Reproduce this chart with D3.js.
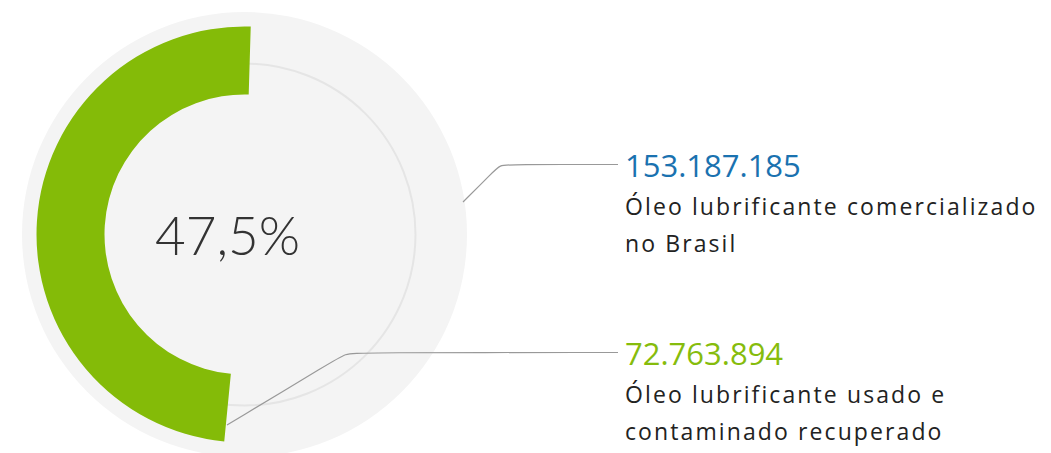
<!DOCTYPE html>
<html>
<head>
<meta charset="utf-8">
<script src="https://cdn.jsdelivr.net/npm/d3@7"></script>
<style>
  html, body { margin: 0; padding: 0; background: #fff; }
  svg { display: block; }
</style>
</head>
<body>
<svg id="chart" width="1051" height="453"></svg>
<script>
// data
const percentLabel = "47,5%";
const percentValue = 47.5;
const totals = ["153.187.185", "72.763.894"];
const labels = [
  ["Óleo lubrificante comercializado", "no Brasil"],
  ["Óleo lubrificante usado e", "contaminado recuperado"]
];
const totalColors = ["#1a72b0", "#86bc0c"];

const svg = d3.select("#chart");
const cx = 244.5, cy = 234.5;

// background disc + thin ring
svg.append("circle").attr("cx", cx).attr("cy", cy).attr("r", 222.5).attr("fill", "#f4f4f4");
svg.append("circle").attr("cx", cx).attr("cy", cy).attr("r", 171)
  .attr("fill", "none").attr("stroke", "#e5e5e5").attr("stroke-width", 2);

// gradient for the arc
const defs = svg.append("defs");
const grad = defs.append("linearGradient").attr("id", "g1")
  .attr("gradientUnits", "userSpaceOnUse")
  .attr("x1", 70).attr("y1", 0).attr("x2", 252).attr("y2", 0);
grad.append("stop").attr("offset", "0%").attr("stop-color", "#84bb08");
grad.append("stop").attr("offset", "100%").attr("stop-color", "#a0cb38");

// angle scale (counter-clockwise from the top)
let ang = d3.scaleLinear().domain([0, 100]).range([0, 2 * Math.PI * 1.03]);
const top0 = 2 * Math.PI + 0.03;

const arc = d3.arc().innerRadius(140).outerRadius(208);
svg.append("path")
  .attr("transform", `translate(${cx},${cy})`)
  .attr("d", arc({ startAngle: top0 - ang(percentValue), endAngle: top0 }))
  .attr("fill", "url(#g1)");

svg.append("text")
  .attr("x", 227.5).attr("y", 255)
  .attr("text-anchor", "middle")
  .style("font-family", "Lato, 'Open Sans', sans-serif")
  .style("font-weight", 300)
  .style("font-size", "53px")
  .style("fill", "#333")
  .text(percentLabel);

// leader lines
const line = d3.line().curve(d3.curveBasis);
const leaders = [
  [[463, 202], [493, 172], [500, 165], [510, 164.5], [618, 164.5]],
  [[227, 425], [335, 360], [345, 354], [358, 352.5], [618, 352.5]]
];
svg.selectAll(".leader").data(leaders).enter().append("path")
  .attr("class", "leader")
  .attr("d", d => line(d))
  .attr("fill", "none").attr("stroke", "#999").attr("stroke-width", 1.2);

// value + label blocks
const blockY = [177, 365];
const g = svg.selectAll(".block").data(totals).enter().append("g")
  .attr("class", "block")
  .attr("transform", (d, i) => `translate(625,${blockY[i]})`);

g.append("text")
  .style("font-family", "'Open Sans', sans-serif")
  .style("font-size", "31px")
  .style("fill", (d, i) => totalColors[i])
  .text(d => d);

g.each(function(d, i) {
  d3.select(this).selectAll(".lbl").data(labels[i]).enter().append("text")
    .attr("class", "lbl")
    .attr("y", (t, j) => 38 + j * 37)
    .style("font-family", "'Open Sans', sans-serif")
    .style("font-size", "23px")
    .style("font-weight", 500)
    .style("letter-spacing", "2.1px")
    .style("fill", "#222")
    .text(t => t);
});
</script>
</body>
</html>
